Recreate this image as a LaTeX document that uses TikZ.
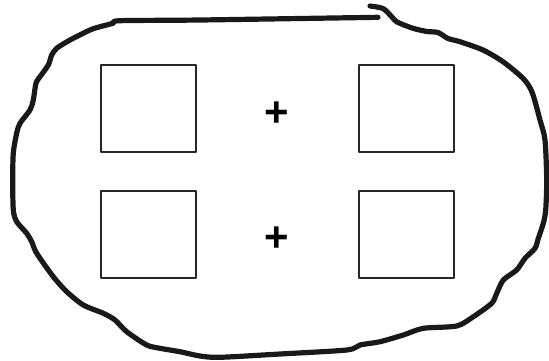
\documentclass[tikz,border=0pt]{standalone}
\usepackage{fontspec}
\setmainfont{Liberation Sans}
\usepackage{tikz}

\begin{document}
\begin{tikzpicture}[x=1pt,y=-1pt,line cap=round,line join=round,
  box/.style={draw=black!85,line width=2pt,inner sep=0pt,minimum width=95pt,minimum height=87pt},
  plus/.style={inner sep=0pt,font=\bfseries\fontsize{42}{42}\selectfont}]
\useasboundingbox (0,0) rectangle (549,360);
\node[box] (tl) at (148.6,108.2) {};
\node[box] (tr) at (406.4,108.2) {};
\node[box] (bl) at (148.6,234.2) {};
\node[box] (br) at (406.4,234.2) {};
\node[plus] (pt) at (276.3,113.8) {+};
\node[plus] (pb) at (276.3,239.3) {+};
\draw[line width=5.2pt,black!90] plot[smooth,tension=0.45] coordinates {
  (370,6) (383,8.5) (392,17) (397,22) (413,28.3) (427,31.5) (438,32.5)
  (448,38.5) (460,41.7) (483,50) (503,61.7) (523,78.3) (532,92) (540,120)
  (545,140) (546.7,180) (545.7,210) (543.3,223.3) (538.3,238.3) (535,248.3)
  (525,258.3) (516.7,270) (503.3,280) (496.7,293.3) (491.7,303.3)
  (473.3,316.7) (456.7,326) (423.3,328.3) (403.3,335) (380,341.7) (360,345)
  (346.7,350) (280,354) (220,357.3) (200,356) (180,351.7) (160,348.3)
  (146.7,345) (126.7,331.7) (115,320) (103.3,313.3) (83.3,305) (66.7,291.7)
  (53.3,276.7) (36.7,253.3) (31.7,241.7) (26.7,233.3) (16.7,221.7)
  (13.3,210) (12.7,180) (13.3,153) (16.7,133) (20,123.3) (30,110)
  (33.3,100) (36,83) (40,76.7) (48.3,65) (51.7,55) (56.7,48.3) (70,40)
  (90,30) (100,26.7) (113,23.3) (120,20.7) (200,20) (378,17.3)};
\end{tikzpicture}
\end{document}
